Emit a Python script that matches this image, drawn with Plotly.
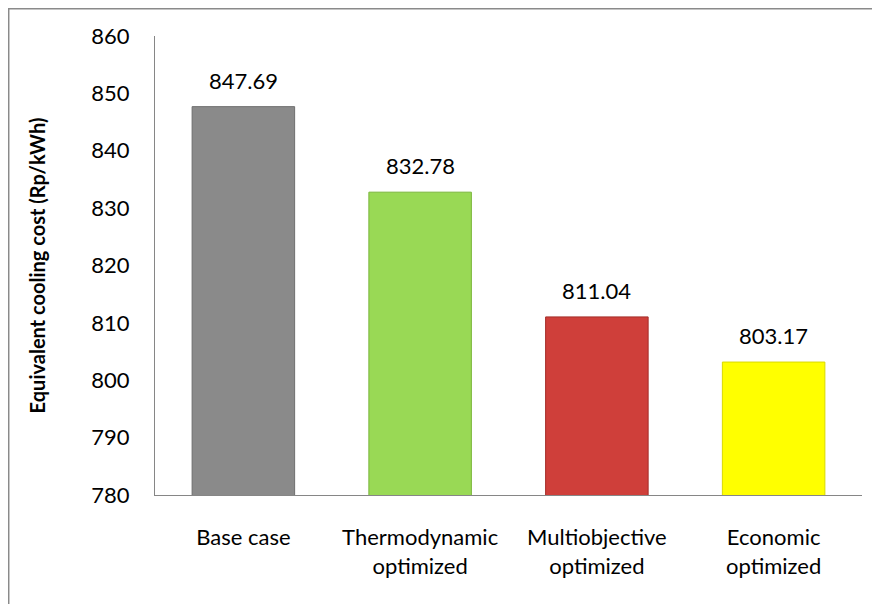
import plotly.graph_objects as go

categories = ["Base case", "Thermodynamic<br>optimized", "Multiobjective<br>optimized", "Economic<br>optimized"]
values = [847.69, 832.78, 811.04, 803.17]
value_labels = ["847.69", "832.78", "811.04", "803.17"]
bar_colors = ["#8a8a8a", "#99d955", "#cf3f3a", "#ffff00"]
edge_colors = ["#6e6e6e", "#7ab63c", "#a52c28", "#d9d900"]
y_ticks = [780, 790, 800, 810, 820, 830, 840, 850, 860]

FONT = "Lato, Calibri, Carlito, sans-serif"

fig = go.Figure()
fig.add_trace(go.Bar(
    x=categories, y=values,
    marker=dict(color=bar_colors, line=dict(color=edge_colors, width=1)),
    hoverinfo="skip",
))

for c, v, t in zip(categories, values, value_labels):
    fig.add_annotation(x=c, y=v, text=t, showarrow=False, yanchor="bottom",
                       yshift=11, font=dict(family=FONT, size=22, color="#000000"))

# outer chart border (top and left visible; right/bottom run off the page)
fig.add_shape(type="rect", xref="paper", yref="paper",
              x0=-0.2069, x1=1.1, y0=-0.35, y1=1.0594,
              line=dict(color="#8a8a8a", width=1.5), fillcolor="rgba(0,0,0,0)", layer="below")

fig.update_layout(
    width=880, height=604,
    margin=dict(l=147, r=26, t=28, b=117),
    paper_bgcolor="#ffffff", plot_bgcolor="#ffffff",
    bargap=0.42,
    showlegend=False,
    font=dict(family=FONT, size=22, color="#000000"),
    xaxis=dict(
        showline=True, linecolor="#868686", linewidth=1,
        showgrid=False, ticks="", tickfont=dict(family=FONT, size=22, color="#000000"),
        ticklabelstandoff=23, fixedrange=True,
    ),
    yaxis=dict(
        range=[780, 860], tickvals=y_ticks,
        showline=True, linecolor="#868686", linewidth=1,
        showgrid=False, zeroline=False, ticks="",
        tickfont=dict(family=FONT, size=22, color="#000000"),
        ticklabelstandoff=20,
        title=dict(text="<b>Equivalent cooling cost (Rp/kWh)</b>",
                   font=dict(family=FONT, size=20, color="#000000"), standoff=40),
        fixedrange=True,
    ),
)

fig.write_html("out.html")
